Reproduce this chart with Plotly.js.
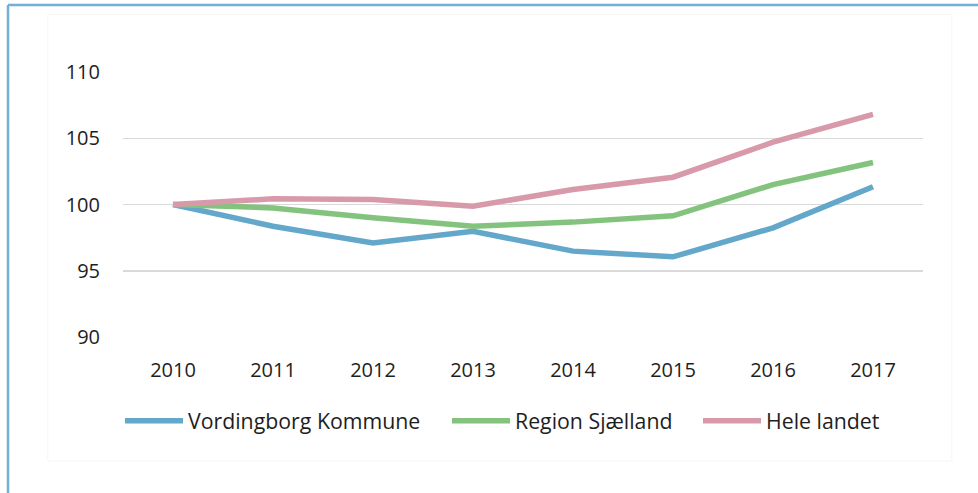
<!DOCTYPE html>
<html>
<head>
<meta charset="utf-8">
<script src="https://cdn.plot.ly/plotly-3.0.1.min.js"></script>
<style>html,body{margin:0;padding:0;background:#fff;}#chart{width:978px;height:493px;}</style>
</head>
<body>
<div id="chart"></div>
<script>
const years = ['2010', '2011', '2012', '2013', '2014', '2015', '2016', '2017'];
const vordingborg = [100, 98.36, 97.1, 97.98, 96.48, 96.05, 98.24, 101.34];
const regionSjaelland = [100, 99.74, 99.0, 98.36, 98.67, 99.15, 101.5, 103.17];
const heleLandet = [100, 100.43, 100.38, 99.87, 101.13, 102.06, 104.7, 106.8];
const seriesNames = ['Vordingborg Kommune', 'Region Sjælland', 'Hele landet'];
const yTicks = [90, 95, 100, 105, 110];

const colors = ['#63a7ca', '#83c37e', '#d89aaa'];
const seriesData = [vordingborg, regionSjaelland, heleLandet];
const legendIds = ['legend', 'legend2', 'legend3'];
const legendX = [-0.00375, 0.405, 0.71875];

const traces = seriesData.map((vals, i) => ({
  type: 'scatter',
  mode: 'lines',
  x: years,
  y: vals,
  name: seriesNames[i],
  legend: legendIds[i],
  line: {color: colors[i], width: 5.5}
}));

function legendCfg(x) {
  return {
    orientation: 'h',
    x: x, xanchor: 'left',
    y: -0.317, yanchor: 'middle',
    font: {size: 21.3, color: '#1e1e1e'},
    itemwidth: 58,
    bgcolor: 'rgba(0,0,0,0)'
  };
}

const layout = {
  width: 978,
  height: 493,
  margin: {l: 123, r: 55, t: 72, b: 156},
  paper_bgcolor: '#ffffff',
  plot_bgcolor: '#ffffff',
  font: {family: '"Open Sans", sans-serif', size: 20, color: '#1e1e1e'},
  showlegend: true,
  legend: legendCfg(legendX[0]),
  legend2: legendCfg(legendX[1]),
  legend3: legendCfg(legendX[2]),
  xaxis: {
    type: 'category',
    range: [-0.5, 7.5],
    showgrid: false,
    zeroline: false,
    showline: false,
    ticks: '',
    ticklabelstandoff: 19
  },
  yaxis: {
    range: [90, 110],
    tickvals: yTicks,
    ticktext: yTicks.map(String),
    showgrid: true,
    gridcolor: '#d9d9d9',
    gridwidth: 1.5,
    zeroline: false,
    showline: false,
    ticks: '',
    ticklabelstandoff: 22
  },
  shapes: [
    {type: 'rect', xref: 'paper', yref: 'paper', x0: -0.094, x1: 1.036, y0: -0.468, y1: 1.217,
     line: {color: '#f6f6f6', width: 1}, fillcolor: 'rgba(0,0,0,0)', layer: 'below'},
    {type: 'line', xref: 'paper', yref: 'paper', x0: -0.14375, x1: -0.14375, y0: 1.2528, y1: -0.6,
     line: {color: '#72b1d6', width: 2.5}},
    {type: 'line', xref: 'paper', yref: 'paper', x0: -0.14375, x1: 1.1, y0: 1.2528, y1: 1.2528,
     line: {color: '#72b1d6', width: 2.5}}
  ]
};

Plotly.newPlot('chart', traces, layout, {displayModeBar: false, staticPlot: true});
</script>
</body>
</html>
